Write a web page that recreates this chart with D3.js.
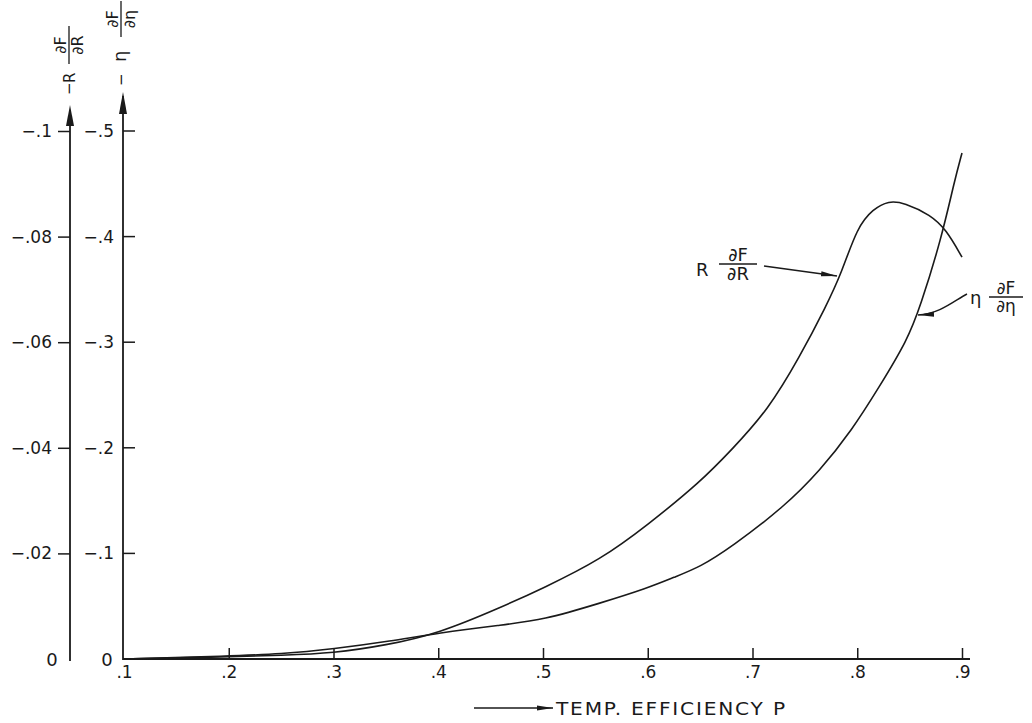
<!DOCTYPE html>
<html>
<head>
<meta charset="utf-8">
<script src="https://cdn.jsdelivr.net/npm/d3@7"></script>
<style>
  body { margin: 0; background: #fff; }
  svg { display: block; }
  text { font-family: "DejaVu Sans", sans-serif; fill: #1a1a1a; }
</style>
</head>
<body>
<svg id="chart" width="1032" height="723"></svg>
<script>
// ---- data ----
const pTicks = [.1, .2, .3, .4, .5, .6, .7, .8, .9];
const pTickLabels = ['.1', '.2', '.3', '.4', '.5', '.6', '.7', '.8', '.9'];

const rTicks = [-.02, -.04, -.06, -.08, -.1];
const rTickLabels = ['\u2212.02', '\u2212.04', '\u2212.06', '\u2212.08', '\u2212.1'];
const etaTicks = [-.1, -.2, -.3, -.4, -.5];
const etaTickLabels = ['\u2212.1', '\u2212.2', '\u2212.3', '\u2212.4', '\u2212.5'];

// R dF/dR  (read on left axis)
const rP   = [.10, .20, .25, .30, .35, .40, .46, .50, .555, .60, .65, .68, .715, .745, .77, .785, .80, .815, .83, .845, .87, .885, .90];
const rVal = [0, -.0004, -.0007, -.0011, -.0026, -.0048, -.0098, -.0134, -.0188, -.0254, -.0335, -.0396, -.0472, -.0572, -.0667, -.0731, -.0818, -.0852, -.0868, -.0864, -.0841, -.0813, -.0761];

// eta dF/deta  (read on second axis)
const etaP   = [.10, .20, .25, .30, .355, .40, .46, .50, .555, .60, .625, .65, .68, .73, .765, .795, .82, .848, .86, .88, .893, .90];
const etaVal = [0, -.0028, -.0047, -.0095, -.0170, -.0246, -.0322, -.0369, -.0530, -.0672, -.0774, -.0871, -.1061, -.1439, -.1790, -.2169, -.2560, -.3021, -.3333, -.3968, -.4536, -.4792];

// ---- setup ----
const svg = d3.select('#chart');
const ink = '#1a1a1a';

const x    = d3.scaleLinear().domain([.1, .9]).range([124, 962]);
const yR   = d3.scaleLinear().domain([0, -.1]).range([659, 131]);
const yEta = d3.scaleLinear().domain([0, -.5]).range([659, 131]);

const axR = 70, axEta = 123;

svg.append('defs').append('marker')
  .attr('id', 'head')
  .attr('markerUnits', 'userSpaceOnUse')
  .attr('markerWidth', 18).attr('markerHeight', 8)
  .attr('refX', 16).attr('refY', 4)
  .attr('orient', 'auto')
  .append('path')
  .attr('d', 'M0,1.5 L16,4 L0,6.5 Z')
  .attr('fill', ink);

// ---- vertical axes ----
svg.append('line')
  .attr('x1', axR).attr('x2', axR)
  .attr('y1', 110).attr('y2', 661)
  .attr('stroke', ink).attr('stroke-width', 1.8);
svg.append('path')
  .attr('d', `M${axR},105 L${axR - 4},126 L${axR + 4},126 Z`)
  .attr('fill', ink);

svg.append('line')
  .attr('x1', axEta).attr('x2', axEta)
  .attr('y1', 96).attr('y2', 660)
  .attr('stroke', ink).attr('stroke-width', 1.8);
svg.append('path')
  .attr('d', `M${axEta},92 L${axEta - 4},114 L${axEta + 4},114 Z`)
  .attr('fill', ink);

// R axis ticks (left side)
const gR = svg.append('g')
  .attr('transform', `translate(${axR},0)`)
  .call(d3.axisLeft(yR)
    .tickValues(rTicks)
    .tickSize(12)
    .tickPadding(6)
    .tickFormat((d, i) => rTickLabels[i]));
gR.select('.domain').remove();
gR.selectAll('line').attr('stroke', ink).attr('stroke-width', 1.5);
gR.selectAll('text').attr('font-size', 17).attr('fill', ink)
  .style('font-family', '"DejaVu Sans", sans-serif');

// eta axis: ticks on right, labels on left
const gE = svg.append('g')
  .attr('transform', `translate(${axEta},0)`);
gE.selectAll('line.tk')
  .data(etaTicks)
  .join('line')
  .attr('class', 'tk')
  .attr('x1', 0).attr('x2', 12)
  .attr('y1', d => yEta(d)).attr('y2', d => yEta(d))
  .attr('stroke', ink).attr('stroke-width', 1.5);
gE.selectAll('text.tl')
  .data(etaTicks)
  .join('text')
  .attr('class', 'tl')
  .attr('x', -9)
  .attr('y', d => yEta(d))
  .attr('dy', '0.35em')
  .attr('text-anchor', 'end')
  .attr('font-size', 17)
  .text((d, i) => etaTickLabels[i]);

// zero labels
svg.append('text').attr('x', 52).attr('y', yR(0)).attr('dy', '0.38em')
  .attr('text-anchor', 'middle').attr('font-size', 18).text('0');
svg.append('text').attr('x', 107).attr('y', yEta(0)).attr('dy', '0.38em')
  .attr('text-anchor', 'middle').attr('font-size', 18).text('0');

// ---- x axis ----
const gX = svg.append('g')
  .attr('transform', `translate(0,${yR(0)})`)
  .call(d3.axisBottom(x)
    .tickValues(pTicks)
    .tickSizeInner(-11)
    .tickSizeOuter(0)
    .tickPadding(7)
    .tickFormat((d, i) => pTickLabels[i]));
gX.select('.domain').remove();
gX.append('line')
  .attr('x1', axEta).attr('x2', 970)
  .attr('stroke', ink).attr('stroke-width', 1.8);
gX.selectAll('.tick line').attr('stroke', ink).attr('stroke-width', 1.5);
gX.selectAll('.tick').filter(d => d === .1).select('line').remove();
gX.selectAll('text').attr('font-size', 17).attr('fill', ink)
  .style('font-family', '"DejaVu Sans", sans-serif');

// x title with arrow
svg.append('line')
  .attr('x1', 474).attr('x2', 553)
  .attr('y1', 708).attr('y2', 708)
  .attr('stroke', ink).attr('stroke-width', 1.4)
  .attr('marker-end', 'url(#head)');
svg.append('text')
  .attr('transform', 'translate(556,714.5) scale(1.12,1)')
  .attr('font-size', 18)
  .attr('letter-spacing', 1.6)
  .text('TEMP. EFFICIENCY P');

// ---- curves ----
const rLine = d3.line()
  .x(d => x(d[0])).y(d => yR(d[1]))
  .curve(d3.curveBasis);
const etaLine = d3.line()
  .x(d => x(d[0])).y(d => yEta(d[1]))
  .curve(d3.curveBasis);

svg.append('path')
  .datum(d3.zip(rP, rVal))
  .attr('d', rLine)
  .attr('fill', 'none').attr('stroke', ink).attr('stroke-width', 1.6);
svg.append('path')
  .datum(d3.zip(etaP, etaVal))
  .attr('d', etaLine)
  .attr('fill', 'none').attr('stroke', ink).attr('stroke-width', 1.6);

// ---- fraction helper ----
function frac(g, cx, cy, num, den, w, fs) {
  g.append('line')
    .attr('x1', cx - w / 2).attr('x2', cx + w / 2)
    .attr('y1', cy).attr('y2', cy)
    .attr('stroke', ink).attr('stroke-width', 1.3);
  g.append('text').attr('x', cx).attr('y', cy - 3)
    .attr('text-anchor', 'middle').attr('font-size', fs).text(num);
  g.append('text').attr('x', cx).attr('y', cy + fs - 2)
    .attr('text-anchor', 'middle').attr('font-size', fs).text(den);
}

// rotated axis titles
const tR = svg.append('g').attr('transform', `translate(${axR - 1},95) rotate(-90)`);
tR.append('text').attr('x', 0).attr('y', 5).attr('font-size', 15).text('\u2212');
tR.append('text').attr('x', 12).attr('y', 6).attr('font-size', 15).text('R');
frac(tR, 50, 0, '\u2202F', '\u2202R', 38, 16);

const tE = svg.append('g').attr('transform', `translate(${axEta - 2},86) rotate(-90)`);
tE.append('text').attr('x', 0).attr('y', 5).attr('font-size', 15).text('\u2212');
tE.append('text').attr('x', 24).attr('y', 5).attr('font-size', 18).text('\u03b7');
frac(tE, 67, 0, '\u2202F', '\u2202\u03b7', 36, 16);

// ---- curve labels ----
const lR = svg.append('g');
lR.append('text').attr('x', 696).attr('y', 276).attr('font-size', 18).text('R');
frac(lR, 738, 264, '\u2202F', '\u2202R', 38, 18);
svg.append('line')
  .attr('x1', 764).attr('y1', 266)
  .attr('x2', 837).attr('y2', 276)
  .attr('stroke', ink).attr('stroke-width', 1.4)
  .attr('marker-end', 'url(#head)');

const lE = svg.append('g');
lE.append('text').attr('x', 970).attr('y', 304).attr('font-size', 18).text('\u03b7');
frac(lE, 1006, 297, '\u2202F', '\u2202\u03b7', 34, 17);
svg.append('path')
  .attr('d', 'M967,294 C955,300 940,314 918,315')
  .attr('fill', 'none')
  .attr('stroke', ink).attr('stroke-width', 1.4)
  .attr('marker-end', 'url(#head)');
</script>
</body>
</html>
